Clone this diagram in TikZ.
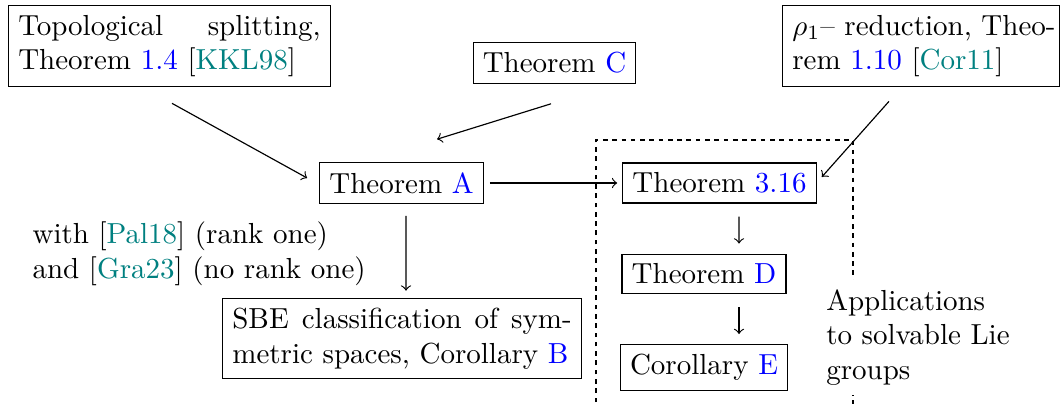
\documentclass[tikz,border=0pt]{standalone}
\usepackage{xcolor}
\definecolor{refblue}{rgb}{0,0,1}
\definecolor{citeteal}{rgb}{0,0.5,0.5}
\newcommand{\rf}[1]{\textcolor{refblue}{#1}}
\newcommand{\ct}[1]{[\textcolor{citeteal}{#1}]}
\begin{document}
\begin{tikzpicture}[x=0.34483pt, y=-0.34483pt,
  box/.style={draw, line width=0.4pt},
  arr/.style={->, line width=0.4pt}]
\useasboundingbox (0,0) rectangle (1062,403);
% dashed frame
\draw[line width=0.4pt, dash pattern=on 1.6pt off 1.6pt] (596,430) -- (596,140) -- (853,140) -- (853,430);
% nodes
\node[box, text width=104.3pt, align=left] (topo) at (169.5,46)
  {Topological\hfill splitting,\\Theorem \rf{1.4} \ct{KKL98}};
\node[box] (thC) at (554.5,63) {Theorem \rf{C}};
\node[box, text width=88.8pt, align=left] (rho) at (921,46)
  {\makebox[\linewidth][s]{$\rho_1$-- reduction, Theo-}\\rem \rf{1.10} \ct{Cor11}};
\node[box] (thA) at (401.5,183) {Theorem \rf{A}};
\node[box] (th316) at (719.5,183) {Theorem \rf{3.16}};
\node[box] (thD) at (704,274) {Theorem \rf{D}};
\node[box] (corE) at (704,367.5) {Corollary \rf{E}};
\node[box, text width=117pt, align=left] (sbe) at (402,338.5)
  {SBE\hfill classification\hfill of\hfill sym-\\metric spaces, Corollary \rf{B}};
\node[anchor=north west, inner sep=0pt, align=left] (lbl) at (32,221)
  {with \ct{Pal18} (rank one)\\and \ct{Gra23} (no rank one)};
\node[fill=white, align=left, anchor=north west] (app) at (816,279)
  {Applications\\to solvable Lie\\groups};
% connectors
\draw[arr] ([shift={(2.5,16)}]topo.south) -- ([shift={(-12,-5)}]thA.west);
\draw[arr] ([shift={(-3.5,20)}]thC.south) -- ([shift={(35.5,-23)}]thA.north);
\draw[arr] ([shift={(6,0)}]thA.east) -- ([shift={(-5,0)}]th316.west);
\draw[arr] ([shift={(-32,14)}]rho.south) -- ([shift={(5,-6)}]th316.east);
\draw[arr] ([shift={(19.5,13)}]th316.south) -- ([shift={(35,-10)}]thD.north);
\draw[arr] ([shift={(35,13)}]thD.south) -- ([shift={(35,-10)}]corE.north);
\draw[arr] ([shift={(4.5,12)}]thA.south) -- ([shift={(4,-7)}]sbe.north);
\end{tikzpicture}
\end{document}
